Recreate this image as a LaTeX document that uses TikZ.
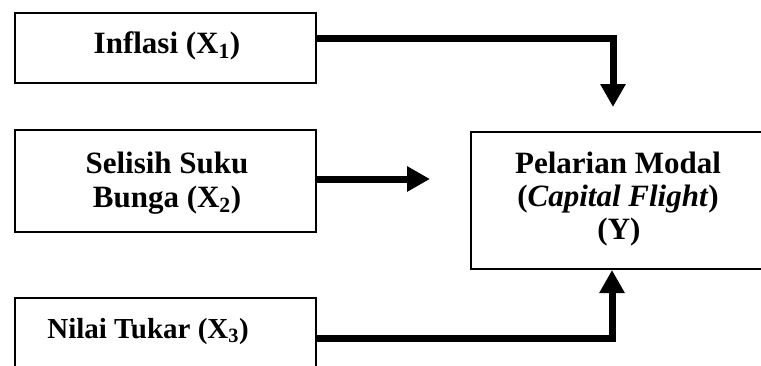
\documentclass[tikz,border=0pt]{standalone}
\usepackage{fontspec}
\setmainfont{Liberation Serif}
\usetikzlibrary{arrows.meta}
\begin{document}
\begin{tikzpicture}[x=1pt,y=-1pt,
  box/.style={draw,line width=2pt,inner sep=0pt},
  lbl/.style={font=\fontsize{31}{35}\selectfont\bfseries,anchor=base,inner sep=0pt},
  conn/.style={line width=7pt,-{Triangle[width=24pt,length=23pt]}}]
\useasboundingbox (0,0) rectangle (761,365);
\clip (0,0) rectangle (761,365);
\node[box,minimum width=301pt,minimum height=70pt] (b1) at (165.5,48) {};
\node[box,minimum width=301pt,minimum height=102pt] (b2) at (165.5,181) {};
\node[box,minimum width=301pt,minimum height=70pt] (b3) at (165.5,333) {};
\node[box,minimum width=300pt,minimum height=137pt] (y) at (621,200.5) {};
\node[lbl] (t1) at (167,53) {Inflasi (X\textsubscript{1})};
\node[lbl] (t2a) at (167,173) {Selisih Suku};
\node[lbl] (t2b) at (167,207) {Bunga (X\textsubscript{2})};
\node[lbl,font=\fontsize{29}{33}\selectfont\bfseries] (t3) at (148,338) {Nilai Tukar (X\textsubscript{3})};
\node[lbl] (ty1) at (618,173) {Pelarian Modal};
\node[lbl] (ty2) at (618,206) {(\textit{Capital Flight})};
\node[lbl] (ty3) at (619,239) {(Y)};
\coordinate (e1) at (613,107);
\coordinate (e2) at (430,179);
\draw[conn] (b1.east |- 0,38) -| (e1);
\draw[conn] (b2.east |- e2) -- (e2);
\draw[conn] (b3.east |- 0,338) -| (y.south -| 612,0);
\end{tikzpicture}
\end{document}
